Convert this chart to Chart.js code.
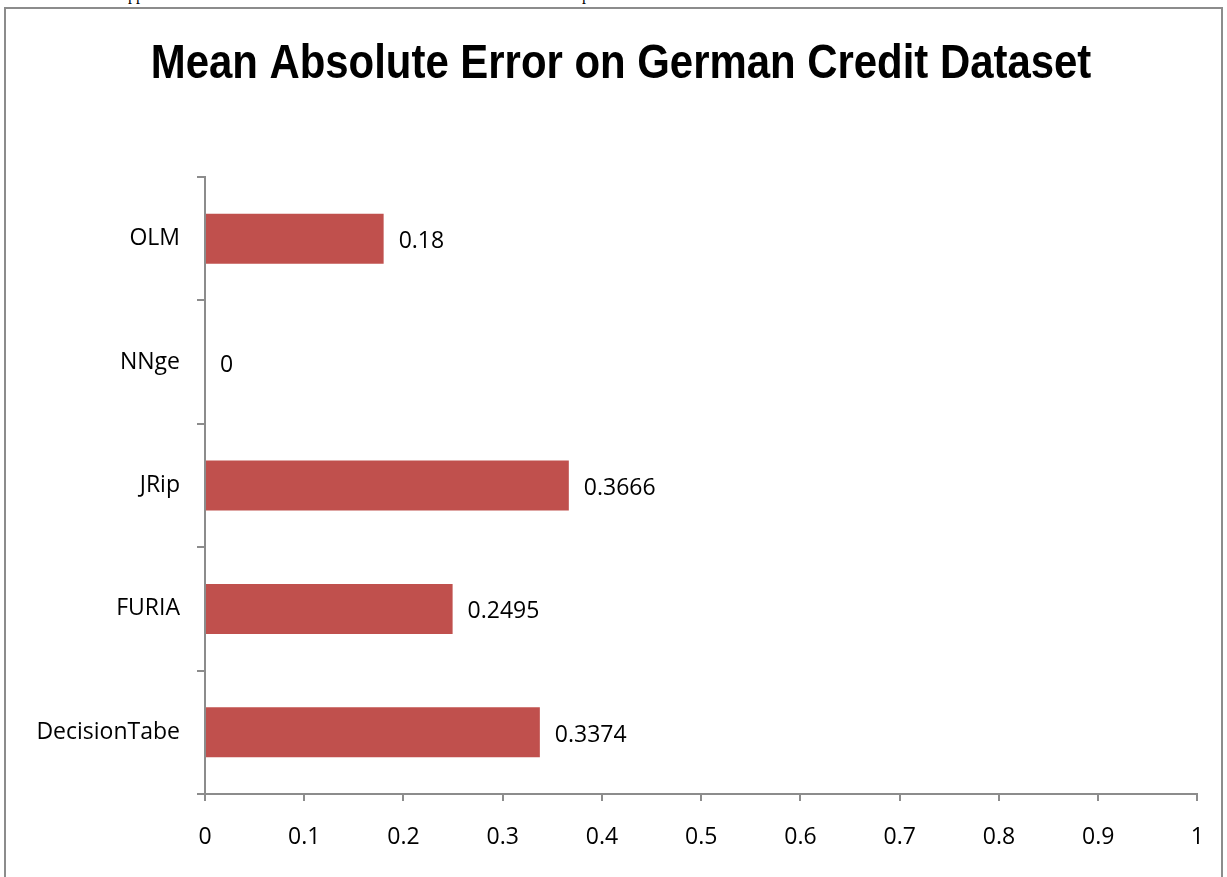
<!DOCTYPE html>
<html>
<head>
<meta charset="utf-8">
<title>Mean Absolute Error on German Credit Dataset</title>
<script src="https://cdn.jsdelivr.net/npm/chart.js@4/dist/chart.umd.min.js"></script>
<style>
  html, body { margin: 0; padding: 0; background: #fff; overflow: hidden; }
  body { width: 1227px; height: 877px; position: relative; }
  .frame {
    position: absolute; left: 4px; top: 7px; width: 1219px; height: 900px;
    border: 2px solid #8c8c8c; box-sizing: border-box;
  }
  .prev-line {
    position: absolute; top: -14px; font: 16px "Liberation Serif", serif; color: #000;
  }
  #wrap { position: absolute; left: 0; top: 0; width: 1227px; height: 877px; }
</style>
</head>
<body>
<span class="prev-line" style="left:128px">pp</span>
<span class="prev-line" style="left:582px">p</span>
<div class="frame"></div>
<div id="wrap"><canvas id="chart" width="1227" height="877"></canvas></div>
<script>
// Classifiers, listed bottom to top
const categories = ['DecisionTabe', 'FURIA', 'JRip', 'NNge', 'OLM'];
// Mean absolute error per classifier
const maeValues = [0.3374, 0.2495, 0.3666, 0, 0.18];
// Value-axis tick labels
const xTickLabels = ['0', '0.1', '0.2', '0.3', '0.4', '0.5', '0.6', '0.7', '0.8', '0.9', '1'];
const chartTitle = 'Mean Absolute Error on German Credit Dataset';

const axisGrey = '#8c8c8c';
const labelFont = { family: '"Open Sans", "Noto Sans", sans-serif', size: 23 };

// Bold, horizontally condensed heading
const condensedTitle = {
  id: 'condensedTitle',
  afterDraw(chart) {
    const ctx = chart.ctx;
    ctx.save();
    ctx.font = 'bold 49px "Liberation Sans", Arial, sans-serif';
    ctx.fillStyle = '#000';
    ctx.textAlign = 'center';
    ctx.textBaseline = 'alphabetic';
    ctx.translate(621, 78);
    ctx.scale(0.855, 1);
    ctx.fillText(chartTitle, 0, 0);
    ctx.restore();
  }
};

// Writes each bar's value just past its end
const valueLabels = {
  id: 'valueLabels',
  afterDatasetsDraw(chart) {
    const ctx = chart.ctx;
    const meta = chart.getDatasetMeta(0);
    ctx.save();
    ctx.font = `${labelFont.size}px ${labelFont.family}`;
    ctx.fillStyle = '#000';
    ctx.textAlign = 'left';
    ctx.textBaseline = 'middle';
    meta.data.forEach((bar, i) => {
      const v = chart.data.datasets[0].data[i];
      ctx.fillText(String(v), bar.x + 15, bar.y + 3);
    });
    ctx.restore();
  }
};

new Chart(document.getElementById('chart'), {
  type: 'bar',
  data: {
    labels: categories,
    datasets: [{
      data: maeValues,
      backgroundColor: '#C0504D',
      borderWidth: 0,
      barPercentage: 0.405,
      categoryPercentage: 1.0
    }]
  },
  options: {
    indexAxis: 'y',
    responsive: false,
    animation: false,
    devicePixelRatio: 1,
    layout: { padding: { left: 0, right: 26, top: 177, bottom: 0 } },
    plugins: {
      legend: { display: false },
      tooltip: { enabled: false },
      title: { display: false }
    },
    scales: {
      x: {
        min: 0,
        max: 1,
        afterFit(scale) { scale.height = 83; },
        afterBuildTicks(scale) {
          scale.ticks = xTickLabels.map(t => ({ value: parseFloat(t) }));
        },
        ticks: {
          color: '#000',
          font: labelFont,
          padding: 23,
          maxRotation: 0,
          autoSkip: false,
          callback: (v, i) => xTickLabels[i]
        },
        grid: { drawOnChartArea: false, drawTicks: true, tickLength: 7, color: axisGrey, lineWidth: 2 },
        border: { display: true, color: axisGrey, width: 2 }
      },
      y: {
        reverse: true,
        afterFit(scale) { scale.width = 205; },
        ticks: { color: '#000', font: labelFont, padding: 17 },
        grid: { drawOnChartArea: false, drawTicks: true, tickLength: 8, color: axisGrey, lineWidth: 2, offset: true },
        border: { display: true, color: axisGrey, width: 2 }
      }
    }
  },
  plugins: [valueLabels, condensedTitle]
});
</script>
</body>
</html>
